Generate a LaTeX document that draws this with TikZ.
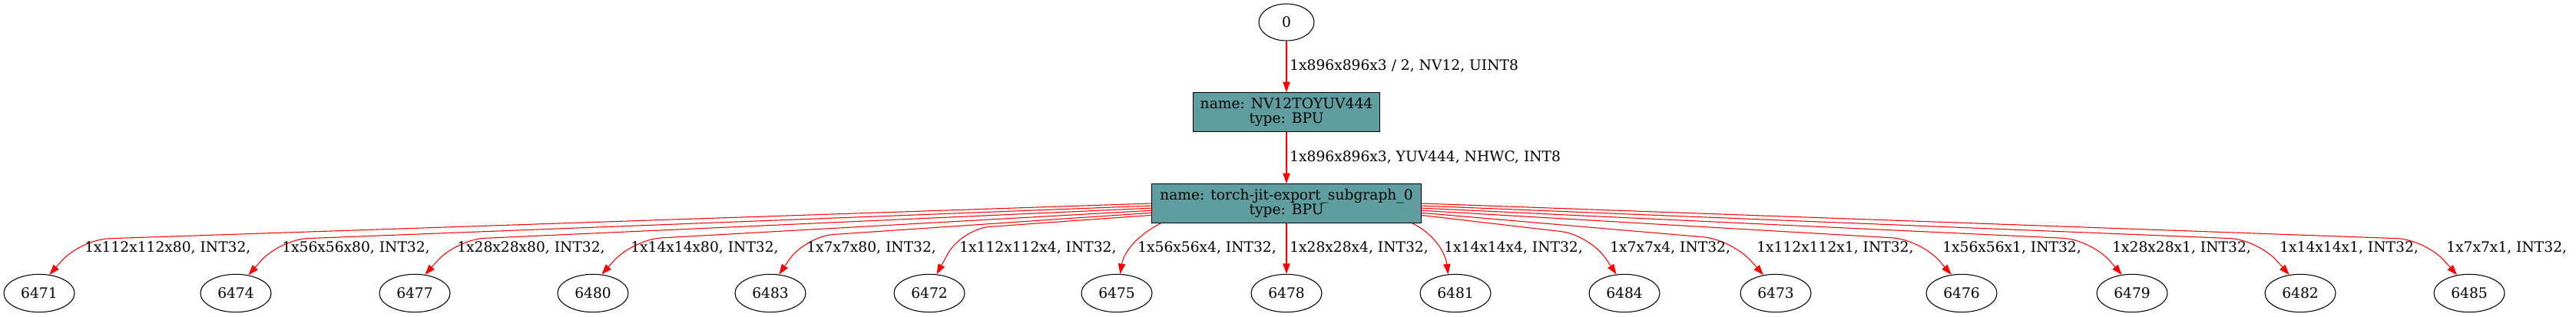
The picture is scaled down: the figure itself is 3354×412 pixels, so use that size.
\documentclass[tikz,border=0pt]{standalone}
\usepackage{fontspec}
\setmainfont{DejaVu Serif}
\usetikzlibrary{arrows.meta,shapes.geometric}
\definecolor{cadet}{HTML}{5F9EA0}

\begin{document}
\begin{tikzpicture}[
   x=0.75pt,y=-0.75pt,
   font=\fontsize{14}{14.5}\selectfont,
   tensor/.style={draw,ellipse,line width=0.8pt,inner sep=0pt,minimum width=69pt,minimum height=37pt},
   op/.style={draw,fill=cadet,line width=0.9pt,inner sep=0pt,minimum width=263pt,minimum height=38pt,align=center},
   flow/.style={-{Triangle[length=10pt,width=7pt]},red,line width=0.8pt},
   knee/.style={flow,rounded corners=28pt},
   dim/.style={anchor=west,inner sep=0pt}]
\useasboundingbox (0,0) rectangle (3354,412);
\node[tensor,minimum width=54pt,minimum height=36pt] (t0) at (1675,29) {0};
\node[op,minimum width=182pt] (NV12TOYUV444) at (1675,146) {name: NV12TOYUV444\\type: BPU};
\node[op] (subgraph_0) at (1675,265) {name: torch-jit-export\_subgraph\_0\\type: BPU};
\node[tensor] (t6471) at (51,382) {6471};
\node[tensor] (t6474) at (307,382) {6474};
\node[tensor] (t6477) at (540,382) {6477};
\node[tensor] (t6480) at (772,382) {6480};
\node[tensor] (t6483) at (1003,382) {6483};
\node[tensor] (t6472) at (1210,382) {6472};
\node[tensor] (t6475) at (1454,382) {6475};
\node[tensor] (t6478) at (1675,382) {6478};
\node[tensor] (t6481) at (1895,382) {6481};
\node[tensor] (t6484) at (2115,382) {6484};
\node[tensor] (t6473) at (2312,382) {6473};
\node[tensor] (t6476) at (2554,382) {6476};
\node[tensor] (t6479) at (2776,382) {6479};
\node[tensor] (t6482) at (2995,382) {6482};
\node[tensor] (t6485) at (3215,382) {6485};
% input side
\draw[flow] (t0) -- (NV12TOYUV444);
\node[dim] (d0) at (1679,86) {1x896x896x3 / 2, NV12, UINT8};
\draw[flow] (NV12TOYUV444) -- (subgraph_0);
\node[dim] (d1) at (1679,205) {1x896x896x3, YUV444, NHWC, INT8};
% outputs, left
\draw[knee] (subgraph_0.180) -- (105,312) -- (t6471.61);
\draw[knee] (subgraph_0.181) -- (364,312) -- (t6474.55);
\draw[knee] (subgraph_0.182) -- (594,312) -- (t6477.61);
\draw[knee] (subgraph_0.183) -- (824,312) -- (t6480.65);
\draw[knee] (subgraph_0.184) -- (1048,308) -- (t6483.65);
\draw[knee] (subgraph_0.185) -- (1252,298) -- (t6472.69);
\draw[flow] (subgraph_0.189) .. controls (1478,308) and (1463,330) .. (t6475.80);
\draw[flow] (subgraph_0.south) -- (t6478.north);
% outputs, right
\draw[flow] (subgraph_0.351) .. controls (1868,305) and (1882,330) .. (t6481.111);
\draw[knee] (subgraph_0.355) -- (2070,306) -- (t6484.113);
\draw[knee] (subgraph_0.356) -- (2255,312) -- (t6473.124);
\draw[knee] (subgraph_0.357) -- (2501,312) -- (t6476.119);
\draw[knee] (subgraph_0.358) -- (2723,312) -- (t6479.119);
\draw[knee] (subgraph_0.359) -- (2940,312) -- (t6482.121);
\draw[knee] (subgraph_0.0) -- (3158,312) -- (t6485.124);
\node[dim] (d6471) at (110,323) {1x112x112x80, INT32,};
\node[dim] (d6474) at (367,323) {1x56x56x80, INT32,};
\node[dim] (d6477) at (595,323) {1x28x28x80, INT32,};
\node[dim] (d6480) at (821,323) {1x14x14x80, INT32,};
\node[dim] (d6483) at (1050,323) {1x7x7x80, INT32,};
\node[dim] (d6472) at (1249,323) {1x112x112x4, INT32,};
\node[dim] (d6475) at (1481,323) {1x56x56x4, INT32,};
\node[dim] (d6478) at (1679,323) {1x28x28x4, INT32,};
\node[dim] (d6481) at (1880,323) {1x14x14x4, INT32,};
\node[dim] (d6484) at (2096,323) {1x7x7x4, INT32,};
\node[dim] (d6473) at (2287,323) {1x112x112x1, INT32,};
\node[dim] (d6476) at (2529,323) {1x56x56x1, INT32,};
\node[dim] (d6479) at (2750,323) {1x28x28x1, INT32,};
\node[dim] (d6482) at (2968,323) {1x14x14x1, INT32,};
\node[dim] (d6485) at (3185,323) {1x7x7x1, INT32,};
\end{tikzpicture}
\end{document}
